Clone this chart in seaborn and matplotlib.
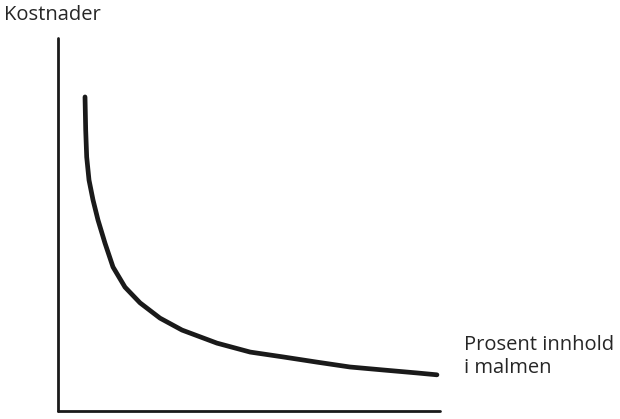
import numpy as np
import pandas as pd
import matplotlib
matplotlib.use("Agg")
import matplotlib.pyplot as plt
import seaborn as sns

# verdier lest av figuren (x: prosent innhold, y: kostnader, 0-100 skala)
innhold = [7.07, 7.25, 7.51, 8.12, 9.16, 10.47, 12.30, 14.40, 17.54, 21.47,
           26.70, 32.46, 41.6, 50.3, 58.9, 67.8, 76.4, 85.1, 94.0, 99.2]
kostnader = [84.2, 75.3, 68.1, 61.9, 56.6, 51.2, 45.0, 38.6, 33.2, 29.0,
             24.9, 21.7, 18.2, 15.8, 14.5, 13.1, 11.8, 11.0, 10.2, 9.7]

y_label = "Kostnader"
x_label = "Prosent innhold\ni malmen"

df = pd.DataFrame({"innhold": innhold, "kostnader": kostnader})

sns.set_style("white")
plt.rcParams['font.family'] = ['Open Sans', 'DejaVu Sans']

fig = plt.figure(figsize=(6.2, 4.19), dpi=100)
ax = fig.add_axes([58 / 620, 8 / 419, 382 / 620, 373 / 419])

sns.lineplot(data=df, x="innhold", y="kostnader", ax=ax, color="#1a1a1a",
             linewidth=3.4, solid_capstyle="round", solid_joinstyle="round")

ax.set_xlim(0, 100)
ax.set_ylim(0, 100)
ax.set_xticks([])
ax.set_yticks([])
ax.set_xlabel("")
ax.set_ylabel("")
sns.despine(ax=ax)
for side in ["left", "bottom"]:
    ax.spines[side].set_linewidth(2.0)
    ax.spines[side].set_color("#1a1a1a")
    ax.spines[side].set_capstyle("round")

fig.text(4 / 620, 1 - 15 / 419, y_label, fontsize=14.5, va="center", ha="left")
fig.text(464 / 620, 1 - 356 / 419, x_label, fontsize=14.5, va="center", ha="left",
         linespacing=1.2)

fig.savefig("out.png", dpi=100, facecolor="white")
